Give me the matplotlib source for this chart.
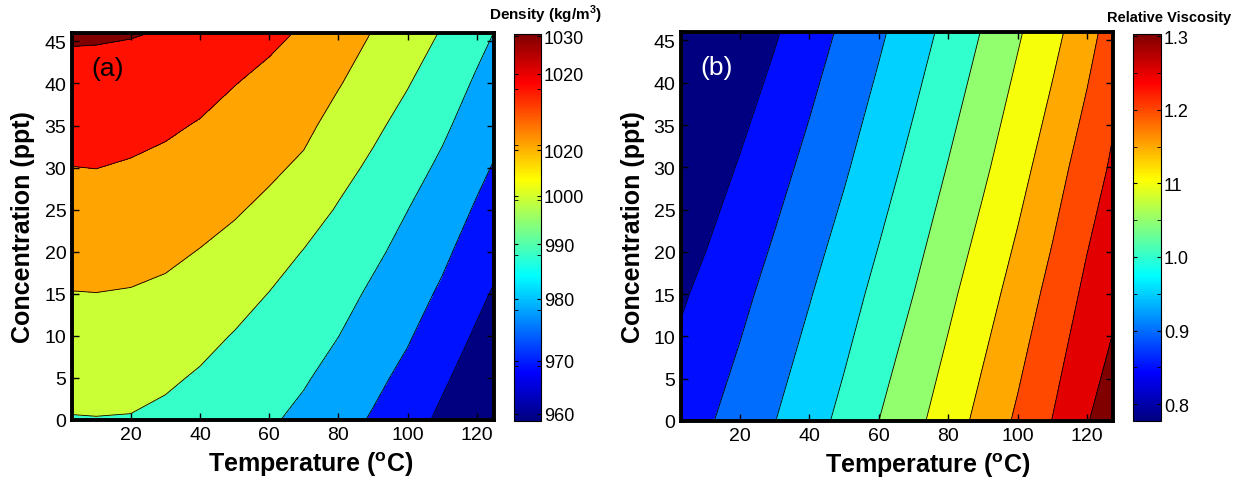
import numpy as np
import matplotlib
matplotlib.use("Agg")
import matplotlib.pyplot as plt
from matplotlib import cm, colors

plt.rcParams['font.family'] = ['Liberation Sans', 'DejaVu Sans']
plt.rcParams['mathtext.fontset'] = 'custom'
plt.rcParams['mathtext.rm'] = 'Liberation Sans'
plt.rcParams['mathtext.bf'] = 'Liberation Sans:bold'

# --- (a) density grid (kg/m3) ---
temperature = [0, 10, 20, 30, 40, 50, 60, 70, 80, 90, 100, 110, 120, 130]
concentration = [0, 5, 10, 15, 20, 25, 30, 35, 40, 46]
density = [
    [994.5, 994.7, 994.5, 992.9, 990.5, 987.8, 986.1, 982.8, 978.4, 974.1, 969.1, 963.0, 957.0, 950.6],
    [997.9, 998.1, 997.8, 996.4, 994.0, 991.2, 989.0, 985.9, 981.8, 977.2, 972.6, 966.5, 960.4, 954.1],
    [1001.3, 1001.5, 1001.2, 999.9, 997.6, 994.5, 991.9, 988.9, 985.1, 980.4, 975.9, 970.1, 963.8, 957.6],
    [1004.7, 1004.9, 1004.5, 1003.4, 1001.1, 998.4, 994.8, 991.8, 988.2, 983.5, 979.0, 973.6, 967.2, 961.1],
    [1008.1, 1008.3, 1007.8, 1006.7, 1004.7, 1002.3, 998.8, 994.7, 991.3, 986.8, 982.1, 976.9, 970.6, 964.6],
    [1011.4, 1011.7, 1011.0, 1009.8, 1008.0, 1005.9, 1003.0, 999.0, 994.3, 990.1, 985.1, 980.1, 974.0, 968.1],
    [1014.8, 1015.1, 1014.2, 1012.9, 1011.2, 1009.0, 1006.6, 1003.5, 997.9, 993.4, 988.6, 983.3, 977.3, 971.5],
    [1018.4, 1018.5, 1017.7, 1016.3, 1014.4, 1012.1, 1009.7, 1007.1, 1001.7, 996.8, 992.0, 986.7, 980.6, 975.0],
    [1021.9, 1021.8, 1021.3, 1020.0, 1018.0, 1015.2, 1012.9, 1010.3, 1005.6, 1000.4, 995.5, 990.1, 983.8, 978.1],
    [1026.2, 1026.0, 1025.5, 1024.5, 1022.8, 1019.7, 1016.9, 1014.1, 1010.3, 1004.6, 1000.1, 994.3, 987.9, 981.9],
]
density_levels = [940, 965, 975, 985, 995, 1005, 1015, 1025, 1040]

# --- (b) relative viscosity grid ---
visc_concentration = [0, 15, 30, 46]
viscosity = [
    [0.843, 0.868, 0.895, 0.924, 0.955, 0.988, 1.025, 1.061, 1.100, 1.141, 1.183, 1.226, 1.272, 1.317],
    [0.811, 0.837, 0.863, 0.892, 0.922, 0.954, 0.989, 1.025, 1.064, 1.104, 1.145, 1.191, 1.236, 1.273],
    [0.772, 0.800, 0.829, 0.858, 0.888, 0.919, 0.953, 0.989, 1.027, 1.066, 1.107, 1.151, 1.201, 1.242],
    [0.727, 0.758, 0.789, 0.820, 0.852, 0.884, 0.917, 0.952, 0.989, 1.028, 1.069, 1.110, 1.156, 1.213],
]
viscosity_levels = [0.7, 0.825, 0.875, 0.925, 0.975, 1.025, 1.075, 1.125, 1.175, 1.225, 1.275, 1.4]

# colorbar ticks (labels as printed in the figure)
cbar_a_ticks = [1029.6, 1022.8, 1009.0, 1000.7, 992.0, 982.1, 970.9, 961.3]
cbar_a_labels = ['1030', '1020', '1020', '1000', '990', '980', '970', '960']
cbar_b_ticks = [1.3, 1.2, 1.1, 1.0, 0.9, 0.8]
cbar_b_labels = ['1.3', '1.2', '11', '1.0', '0.9', '0.8']

xticks = [20, 40, 60, 80, 100, 120]
yticks = [0, 5, 10, 15, 20, 25, 30, 35, 40, 45]

# MATLAB-style jet
jet = colors.LinearSegmentedColormap.from_list('mjet', [
    (0.0, (0, 0, 0.5)), (0.125, (0, 0, 1)), (0.375, (0, 1, 1)),
    (0.625, (1, 1, 0)), (0.875, (1, 0, 0)), (1.0, (0.5, 0, 0))], N=256)

W, H = 1234, 485
fig = plt.figure(figsize=(W / 100, H / 100), dpi=100)


def box(l, t, r, b):
    return [l / W, 1 - b / H, (r - l) / W, (b - t) / H]


def style_axes(ax, xlim, tag, tag_color):
    ax.set_xlim(*xlim)
    ax.set_ylim(0, 46)
    ax.set_xticks(xticks)
    ax.set_yticks(yticks)
    ax.tick_params(direction='in', top=True, right=True, length=5, width=1,
                   labelsize=14, pad=4)
    for s in ax.spines.values():
        s.set_linewidth(2.8)
    ax.set_xlabel(r'Temperature ($^{\mathbf{o}}$C)', fontsize=18, fontweight='bold')
    ax.set_ylabel('Concentration (ppt)', fontsize=18, fontweight='bold')
    ax.text(0.045, 0.91, tag, transform=ax.transAxes, fontsize=19,
            color=tag_color, va='center', ha='left')


def style_cbar(cax):
    cax.tick_params(which='both', direction='in', left=True, right=True,
                    labelsize=13, pad=2, length=3)


# ---------------- (a) density ----------------
ax1 = fig.add_axes(box(72, 34, 494, 421))
norm_a = colors.Normalize(960, 1030)
ax1.contourf(temperature, concentration, density, levels=density_levels,
             cmap=jet, norm=norm_a)
ax1.contour(temperature, concentration, density, levels=density_levels[1:-1],
            colors='k', linewidths=0.6)
style_axes(ax1, (3, 125), '(a)', 'black')
ax1.xaxis.set_label_coords(0.566, -0.075)
ax1.yaxis.set_label_coords(-0.088, 0.5)

cax1 = fig.add_axes(box(514, 35, 541, 422))
cb1 = fig.colorbar(cm.ScalarMappable(norm=norm_a, cmap=jet), cax=cax1)
cb1.outline.set_linewidth(0.8)
cb1.set_ticks(cbar_a_ticks)
cb1.set_ticklabels(cbar_a_labels)
cax1.set_yticks([960, 970, 980, 990, 1000, 1010, 1020, 1030], minor=True)
style_cbar(cax1)
fig.text(545 / W, 1 - 15 / H, r'Density (kg/m$^{\mathbf{3}}$)', ha='center',
         va='center', fontsize=11, fontweight='bold')

# ---------------- (b) relative viscosity ----------------
ax2 = fig.add_axes(box(681, 33, 1113, 422))
norm_b = colors.Normalize(0.777, 1.303)
ax2.contourf(temperature, visc_concentration, viscosity, levels=viscosity_levels,
             cmap=jet, norm=norm_b)
ax2.contour(temperature, visc_concentration, viscosity, levels=viscosity_levels[1:-1],
            colors='k', linewidths=0.6)
style_axes(ax2, (3, 127.5), '(b)', 'white')
ax2.xaxis.set_label_coords(0.572, -0.075)
ax2.yaxis.set_label_coords(-0.083, 0.5)

cax2 = fig.add_axes(box(1133, 35, 1161, 422))
cb2 = fig.colorbar(cm.ScalarMappable(norm=norm_b, cmap=jet), cax=cax2)
cb2.outline.set_linewidth(0.8)
cb2.set_ticks(cbar_b_ticks)
cb2.set_ticklabels(cbar_b_labels)
cax2.set_yticks(np.arange(0.8, 1.31, 0.05), minor=True)
style_cbar(cax2)
fig.text(1169 / W, 1 - 18 / H, 'Relative Viscosity', ha='center', va='center',
         fontsize=10.5, fontweight='bold')

fig.savefig('out.png', dpi=100)
